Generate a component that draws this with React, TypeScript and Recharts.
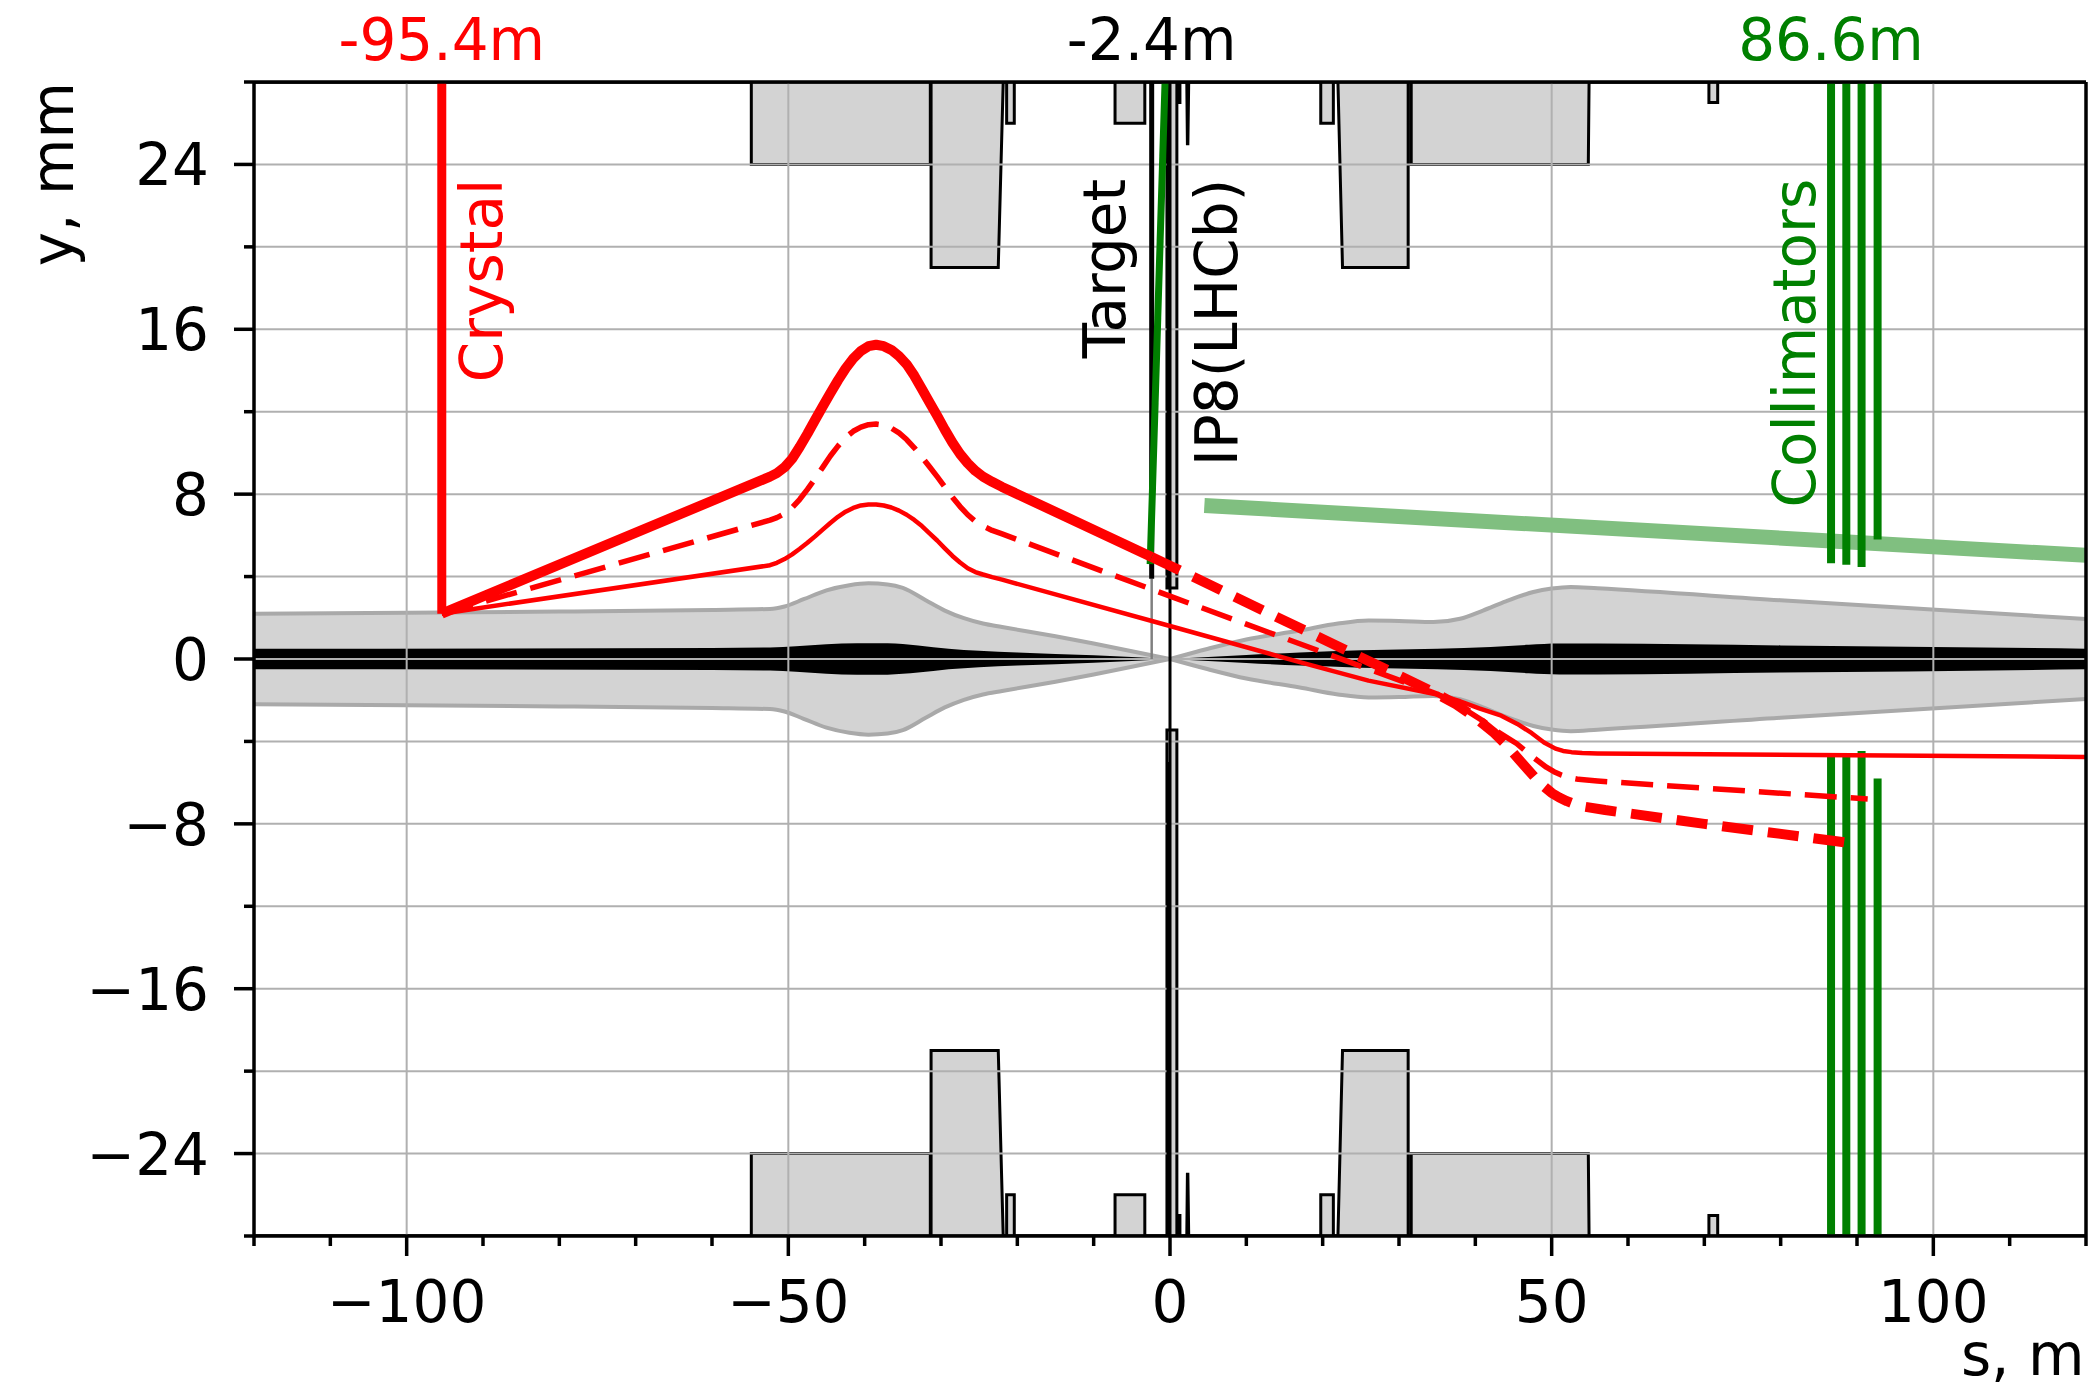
import React from 'react';
import { ComposedChart, Line, Area, XAxis, YAxis, CartesianGrid, ReferenceDot } from 'recharts';

const FONT = "'DejaVu Sans', 'Liberation Sans', sans-serif";
const FS = 58;
const RED = '#ff0000';
const GREEN = '#008000';
const LIGHT_GREEN = '#80bf80';
const BLACK = '#000000';
const FILL_GRAY = '#d3d3d3';
const EDGE_GRAY = '#a9a9a9';
const GRID = '#b0b0b0';

const S_MIN = -120;
const S_MAX = 120;
const Y_MIN = -28;
const Y_MAX = 28;

// ---------- axes ----------
const xTicks = [-120, -110, -100, -90, -80, -70, -60, -50, -40, -30, -20, -10, 0, 10, 20, 30, 40, 50, 60, 70, 80, 90, 100, 110, 120];
const xMajor = [-100, -50, 0, 50, 100];
const yTicks = [-28, -24, -20, -16, -12, -8, -4, 0, 4, 8, 12, 16, 20, 24, 28];
const yMajor = [-24, -16, -8, 0, 8, 16, 24];
const yGrid = [-24, -20, -16, -12, -8, -4, 0, 4, 8, 12, 16, 20, 24];

const topMarks = [
  { s: -95.4, label: '-95.4m', color: RED },
  { s: -2.4, label: '-2.4m', color: BLACK },
  { s: 86.6, label: '86.6m', color: GREEN },
];

// ---------- aperture (half width, mm) ----------
const apertureLeft = [
  { s: -120, a: 2.19 }, { s: -100, a: 2.25 }, { s: -80, a: 2.3 }, { s: -60, a: 2.38 },
  { s: -52.4, a: 2.43 }, { s: -50.5, a: 2.55 }, { s: -48, a: 2.9 }, { s: -45, a: 3.33 },
  { s: -42, a: 3.58 }, { s: -39.5, a: 3.67 }, { s: -37, a: 3.62 }, { s: -35, a: 3.45 },
  { s: -32, a: 2.85 }, { s: -29.5, a: 2.35 }, { s: -27, a: 1.98 }, { s: -24.5, a: 1.72 },
  { s: -22, a: 1.55 }, { s: -15, a: 1.1 }, { s: -10, a: 0.75 }, { s: -5, a: 0.38 }, { s: 0, a: 0 },
];
const apertureRight = [
  { s: 0, a: 0 }, { s: 5, a: 0.5 }, { s: 10, a: 0.95 }, { s: 17, a: 1.38 }, { s: 22, a: 1.72 },
  { s: 26, a: 1.87 }, { s: 30, a: 1.85 }, { s: 34.5, a: 1.79 }, { s: 38, a: 1.95 }, { s: 41, a: 2.35 },
  { s: 44, a: 2.8 }, { s: 47.6, a: 3.25 }, { s: 50, a: 3.42 }, { s: 52.5, a: 3.5 }, { s: 56, a: 3.43 },
  { s: 80, a: 2.85 }, { s: 120, a: 1.94 },
];

// ---------- beam envelope (half width, mm) ----------
const beamLeft = [
  { s: -120, b: 0.5 }, { s: -60, b: 0.53 }, { s: -52.4, b: 0.56 }, { s: -49, b: 0.62 }, { s: -45, b: 0.72 },
  { s: -41, b: 0.77 }, { s: -37, b: 0.76 }, { s: -33, b: 0.66 }, { s: -29, b: 0.5 }, { s: -25, b: 0.4 },
  { s: -20, b: 0.32 }, { s: -10, b: 0.18 }, { s: 0, b: 0 },
];
const beamRight = [
  { s: 0, b: 0 }, { s: 10, b: 0.2 }, { s: 17, b: 0.32 }, { s: 25, b: 0.42 }, { s: 35, b: 0.5 },
  { s: 42, b: 0.58 }, { s: 47, b: 0.69 }, { s: 51, b: 0.75 }, { s: 56, b: 0.75 }, { s: 80, b: 0.66 }, { s: 120, b: 0.5 },
];

// ---------- magnets: outer start, inner start, inner end, outer end, gap ----------
const magnetOuterStart = [-54.85, -31.3, -21.4, -7.2, -0.4, 0.95, 2.2, 19.75, 22.0, 31.6, 70.6];
const magnetInnerStart = [-54.85, -31.3, -21.4, -7.2, -0.4, 0.95, 2.28, 19.75, 22.6, 31.6, 70.6];
const magnetInnerEnd = [-31.4, -22.5, -20.4, -3.3, 0.9, 1.3, 2.34, 21.4, 31.2, 54.8, 71.75];
const magnetOuterEnd = [-31.4, -21.85, -20.4, -3.3, 0.9, 1.3, 2.45, 21.4, 31.2, 54.9, 71.75];
const magnetGap = [24, 19, 26, 26, 3.45, 27, 25, 26, 19, 24, 27];

// ---------- trajectories ----------
const thinPath = [
  { s: -95.4, y: 2.2 }, { s: -52.4, y: 4.55 }, { s: -51.5, y: 4.67 }, { s: -50.5, y: 4.85 }, { s: -49.5, y: 5.08 },
  { s: -48.5, y: 5.35 }, { s: -47.5, y: 5.64 }, { s: -46.5, y: 5.95 }, { s: -45.5, y: 6.28 }, { s: -44.5, y: 6.6 },
  { s: -43.5, y: 6.9 }, { s: -42.5, y: 7.15 }, { s: -41.5, y: 7.33 }, { s: -40.5, y: 7.45 }, { s: -39.5, y: 7.5 },
  { s: -38.5, y: 7.5 }, { s: -37.5, y: 7.45 }, { s: -36.5, y: 7.35 }, { s: -35.5, y: 7.2 }, { s: -34.5, y: 7.0 },
  { s: -33.5, y: 6.75 }, { s: -32.5, y: 6.45 }, { s: -31.5, y: 6.1 }, { s: -30.5, y: 5.75 }, { s: -29.5, y: 5.37 },
  { s: -28.5, y: 5.0 }, { s: -27.5, y: 4.68 }, { s: -26.5, y: 4.4 }, { s: -25.5, y: 4.22 }, { s: -24.5, y: 4.1 },
  { s: -23.3, y: 3.97 }, { s: -22, y: 3.85 }, { s: 0, y: 1.6 }, { s: 17, y: -0.15 }, { s: 26, y: -1.05 },
  { s: 35, y: -1.72 }, { s: 38, y: -2.05 }, { s: 40.5, y: -2.4 }, { s: 43.4, y: -2.75 }, { s: 45.5, y: -3.15 },
  { s: 47.4, y: -3.6 }, { s: 49, y: -4.05 }, { s: 50.5, y: -4.35 }, { s: 51.5, y: -4.46 }, { s: 52.6, y: -4.52 },
  { s: 54, y: -4.56 }, { s: 56, y: -4.58 }, { s: 120, y: -4.75 },
];
const mediumPath = [
  { s: -95.4, y: 2.2 }, { s: -52.4, y: 6.74 }, { s: -51.5, y: 6.86 }, { s: -50.5, y: 7.05 }, { s: -49.5, y: 7.35 },
  { s: -48.5, y: 7.75 }, { s: -47.5, y: 8.23 }, { s: -46.5, y: 8.75 }, { s: -45.5, y: 9.3 }, { s: -44.5, y: 9.85 },
  { s: -43.5, y: 10.33 }, { s: -42.5, y: 10.75 }, { s: -41.5, y: 11.05 }, { s: -40.5, y: 11.25 }, { s: -39.5, y: 11.37 },
  { s: -38.5, y: 11.4 }, { s: -37.5, y: 11.35 }, { s: -36.5, y: 11.2 }, { s: -35.5, y: 10.97 }, { s: -34.5, y: 10.65 },
  { s: -33.5, y: 10.25 }, { s: -32.5, y: 9.8 }, { s: -31.5, y: 9.33 }, { s: -30.5, y: 8.85 }, { s: -29.5, y: 8.35 },
  { s: -28.5, y: 7.85 }, { s: -27.5, y: 7.4 }, { s: -26.5, y: 7.0 }, { s: -25.5, y: 6.68 }, { s: -24.5, y: 6.45 },
  { s: -23.3, y: 6.24 }, { s: -22, y: 6.07 }, { s: 0, y: 3.05 }, { s: 20, y: 0.33 }, { s: 35, y: -1.7 },
  { s: 38, y: -2.3 }, { s: 41, y: -3.0 }, { s: 43, y: -3.55 }, { s: 45.4, y: -4.1 }, { s: 47.5, y: -4.75 },
  { s: 49.3, y: -5.25 }, { s: 50.3, y: -5.47 }, { s: 51.2, y: -5.62 }, { s: 52.2, y: -5.75 }, { s: 53.5, y: -5.84 },
  { s: 56, y: -5.92 }, { s: 70, y: -6.27 }, { s: 91.4, y: -6.79 },
];
const thickBeforeTarget = [
  { s: -95.4, y: 2.2 }, { s: -52.4, y: 8.85 }, { s: -51.5, y: 9.02 }, { s: -50.5, y: 9.3 }, { s: -49.5, y: 9.72 },
  { s: -48.5, y: 10.3 }, { s: -47.5, y: 10.93 }, { s: -46.5, y: 11.6 }, { s: -45.5, y: 12.25 }, { s: -44.5, y: 12.9 },
  { s: -43.5, y: 13.52 }, { s: -42.5, y: 14.1 }, { s: -41.5, y: 14.58 }, { s: -40.5, y: 14.95 }, { s: -39.5, y: 15.18 },
  { s: -38.5, y: 15.25 }, { s: -37.5, y: 15.18 }, { s: -36.5, y: 15.0 }, { s: -35.5, y: 14.7 }, { s: -34.5, y: 14.3 },
  { s: -33.5, y: 13.75 }, { s: -32.5, y: 13.1 }, { s: -31.5, y: 12.45 }, { s: -30.5, y: 11.8 }, { s: -29.5, y: 11.13 },
  { s: -28.5, y: 10.5 }, { s: -27.5, y: 9.95 }, { s: -26.5, y: 9.5 }, { s: -25.5, y: 9.13 }, { s: -24.5, y: 8.85 },
  { s: -23.3, y: 8.6 }, { s: -22, y: 8.35 }, { s: -2.4, y: 4.95 },
];
const thickAfterTarget = [
  { s: -2.4, y: 4.95 }, { s: 0, y: 4.53 }, { s: 20, y: 0.97 }, { s: 30, y: -0.8 },
  { s: 35, y: -1.7 }, { s: 37.5, y: -2.2 }, { s: 40, y: -2.85 }, { s: 42.5, y: -3.6 }, { s: 44, y: -4.15 },
  { s: 46, y: -5.0 }, { s: 48.4, y: -6.0 }, { s: 50, y: -6.5 }, { s: 51, y: -6.72 }, { s: 52, y: -6.9 },
  { s: 53, y: -7.04 }, { s: 54, y: -7.15 }, { s: 57, y: -7.33 }, { s: 70, y: -8.0 }, { s: 89.9, y: -8.97 },
];

// ---------- elements ----------
const crystalS = -95.4;
const crystalTip = 2.2;
const targetS = -2.4;
const targetTip = 3.9;
const ipS = 0;
const veloS = -0.2;
const veloTopGap = 3.45;
const veloBottomGap = 5;
const deflectedFromTarget = [{ s: -2.6, y: 4.6 }, { s: -0.65, y: 28 }];
const lhcbLine = [{ s: 4.5, y: 7.45 }, { s: 120, y: 5.03 }];
const collimatorS = [86.6, 88.6, 90.6, 92.7];
const collimatorGap = [4.65, 4.57, 4.47, 5.8];

const annotations = [
  { s: -87.5, y: 23.3, text: 'Crystal', color: RED },
  { s: -5.9, y: 23.3, text: 'Target', color: BLACK },
  { s: 8.8, y: 23.3, text: 'IP8(LHCb)', color: BLACK },
  { s: 84.5, y: 23.3, text: 'Collimators', color: GREEN },
];

// ---------- derived tables ----------
const toRange = (pts: { s: number; v: number }[]) => pts.map((p) => ({ s: p.s, r: [-p.v, p.v] }));
const apertureLeftData = toRange(apertureLeft.map((p) => ({ s: p.s, v: p.a })));
const apertureRightData = toRange(apertureRight.map((p) => ({ s: p.s, v: p.a })));
const beamLeftData = toRange(beamLeft.map((p) => ({ s: p.s, v: p.b })));
const beamRightData = toRange(beamRight.map((p) => ({ s: p.s, v: p.b })));

function magnetProfile(side: number) {
  const pair = (inner: number) => (side > 0 ? [inner, Y_MAX] : [Y_MIN, -inner]);
  const pts: { s: number; r: number[] }[] = [{ s: S_MIN, r: pair(Y_MAX) }];
  magnetGap.forEach((g, i) => {
    pts.push({ s: magnetOuterStart[i], r: pair(Y_MAX) });
    pts.push({ s: magnetInnerStart[i], r: pair(g) });
    pts.push({ s: magnetInnerEnd[i], r: pair(g) });
    pts.push({ s: magnetOuterEnd[i], r: pair(Y_MAX) });
  });
  pts.push({ s: S_MAX, r: pair(Y_MAX) });
  return pts;
}
const magnetsTop = magnetProfile(1);
const magnetsBottom = magnetProfile(-1);

const vseg = (s: number, y0: number, y1: number) => [{ s, y: y0 }, { s, y: y1 }];

const fmt = (v: number) => (v < 0 ? '\u2212' + Math.abs(v) : String(v));

const XTick = (p: any) => {
  const { x, y, payload } = p;
  const v = payload.value;
  const major = xMajor.includes(v);
  return (
    <g>
      <line x1={x} x2={x} y1={y} y2={y + (major ? 20 : 10)} stroke={BLACK} strokeWidth={3.5} />
      {major && (
        <text x={x} y={y + 86} textAnchor="middle" fontSize={FS} fontFamily={FONT} fill={BLACK}>
          {fmt(v)}
        </text>
      )}
    </g>
  );
};

const YTick = (p: any) => {
  const { x, y, payload } = p;
  const v = payload.value;
  const major = yMajor.includes(v);
  return (
    <g>
      <line x1={x - (major ? 20 : 10)} x2={x} y1={y} y2={y} stroke={BLACK} strokeWidth={3.5} />
      {major && (
        <text x={x - 45} y={y + 21} textAnchor="end" fontSize={FS} fontFamily={FONT} fill={BLACK}>
          {fmt(v)}
        </text>
      )}
    </g>
  );
};

const TopTick = (p: any) => {
  const { x, y, payload } = p;
  const m = topMarks.find((t) => Math.abs(t.s - payload.value) < 1e-6);
  if (!m) return <g />;
  return (
    <text x={x} y={y - 22.5} textAnchor="middle" fontSize={FS} fontFamily={FONT} fill={m.color}>
      {m.label}
    </text>
  );
};

const YLabel = (p: any) => {
  const vb = p.viewBox || { x: 94, y: 82, width: 160, height: 1154 };
  const x = vb.x + vb.width - 181;
  const y = vb.y;
  return (
    <text x={x} y={y} transform={`rotate(-90 ${x} ${y})`} textAnchor="end" fontSize={FS} fontFamily={FONT} fill={BLACK}>
      y, mm
    </text>
  );
};

const SLabel = (p: any) => {
  const vb = p.viewBox || { x: 254, y: 1236, width: 1832, height: 100 };
  return (
    <text x={vb.x + vb.width - 1.5} y={vb.y + 139} textAnchor="end" fontSize={FS} fontFamily={FONT} fill={BLACK}>
      s, m
    </text>
  );
};

const annotationShape = (a: { text: string; color: string }) => (p: any) => (
  <text
    x={p.cx}
    y={p.cy}
    transform={`rotate(-90 ${p.cx} ${p.cy})`}
    textAnchor="end"
    fontSize={FS}
    fontFamily={FONT}
    fill={a.color}
  >
    {a.text}
  </text>
);

export default function App() {
  return (
    <div style={{ position: 'absolute', left: 0, top: 0, width: 2089, height: 1392, background: '#fff' }}>
      <ComposedChart width={2089} height={1392} margin={{ top: 22, right: 2, bottom: 56, left: 94 }}>
        {/* aperture */}
        <Area data={apertureLeftData} dataKey="r" type="monotone" fill={FILL_GRAY} fillOpacity={1} stroke={EDGE_GRAY} strokeWidth={4} isAnimationActive={false} dot={false} activeDot={false} />
        <Area data={apertureRightData} dataKey="r" type="monotone" fill={FILL_GRAY} fillOpacity={1} stroke={EDGE_GRAY} strokeWidth={4} isAnimationActive={false} dot={false} activeDot={false} />
        {/* beam */}
        <Area data={beamLeftData} dataKey="r" type="monotone" fill={BLACK} fillOpacity={1} stroke="none" isAnimationActive={false} dot={false} activeDot={false} />
        <Area data={beamRightData} dataKey="r" type="monotone" fill={BLACK} fillOpacity={1} stroke="none" isAnimationActive={false} dot={false} activeDot={false} />
        {/* magnets */}
        <Area data={magnetsTop} dataKey="r" type="linear" fill={FILL_GRAY} fillOpacity={1} stroke={BLACK} strokeWidth={3} isAnimationActive={false} dot={false} activeDot={false} />
        <Area data={magnetsBottom} dataKey="r" type="linear" fill={FILL_GRAY} fillOpacity={1} stroke={BLACK} strokeWidth={3} isAnimationActive={false} dot={false} activeDot={false} />

        <CartesianGrid horizontalValues={yGrid} verticalValues={xMajor} stroke={GRID} strokeWidth={2} zIndex={150} />

        {/* target and IP */}
        <Line data={vseg(targetS, 0, targetTip)} dataKey="y" type="linear" stroke="#808080" strokeWidth={2.5} dot={false} activeDot={false} isAnimationActive={false} />
        <Line data={vseg(targetS, targetTip, Y_MAX)} dataKey="y" type="linear" stroke={BLACK} strokeWidth={5} dot={false} activeDot={false} isAnimationActive={false} />
        <Line data={vseg(ipS, Y_MIN, Y_MAX)} dataKey="y" type="linear" stroke={BLACK} strokeWidth={3} dot={false} activeDot={false} isAnimationActive={false} />
        <Line data={vseg(veloS, veloTopGap, Y_MAX)} dataKey="y" type="linear" stroke={BLACK} strokeWidth={4} dot={false} activeDot={false} isAnimationActive={false} />
        <Line data={vseg(veloS, Y_MIN, -veloBottomGap)} dataKey="y" type="linear" stroke={BLACK} strokeWidth={4} dot={false} activeDot={false} isAnimationActive={false} />
        <Line data={deflectedFromTarget} dataKey="y" type="linear" stroke={GREEN} strokeWidth={7} dot={false} activeDot={false} isAnimationActive={false} />

        {/* LHCb beam line and collimators */}
        <Line data={lhcbLine} dataKey="y" type="linear" stroke={LIGHT_GREEN} strokeWidth={15} dot={false} activeDot={false} isAnimationActive={false} />
        {collimatorS.map((s, i) => (
          <Line key={'cu' + i} data={vseg(s, collimatorGap[i], Y_MAX)} dataKey="y" type="linear" stroke={GREEN} strokeWidth={8} dot={false} activeDot={false} isAnimationActive={false} />
        ))}
        {collimatorS.map((s, i) => (
          <Line key={'cl' + i} data={vseg(s, Y_MIN, -collimatorGap[i])} dataKey="y" type="linear" stroke={GREEN} strokeWidth={8} dot={false} activeDot={false} isAnimationActive={false} />
        ))}

        {/* trajectories */}
        <Line data={thinPath} dataKey="y" type="linear" stroke={RED} strokeWidth={4.5} strokeLinejoin="round" dot={false} activeDot={false} isAnimationActive={false} />
        <Line data={mediumPath} dataKey="y" type="linear" stroke={RED} strokeWidth={5.5} strokeLinejoin="round" strokeDasharray="32 14" dot={false} activeDot={false} isAnimationActive={false} />
        <Line data={thickBeforeTarget} dataKey="y" type="linear" stroke={RED} strokeWidth={10} strokeLinejoin="round" dot={false} activeDot={false} isAnimationActive={false} />
        <Line data={thickAfterTarget} dataKey="y" type="linear" stroke={RED} strokeWidth={10} strokeLinejoin="round" strokeDasharray="31 15" dot={false} activeDot={false} isAnimationActive={false} />
        <Line data={vseg(crystalS, crystalTip, Y_MAX)} dataKey="y" type="linear" stroke={RED} strokeWidth={9} dot={false} activeDot={false} isAnimationActive={false} />

        {annotations.map((a) => (
          <ReferenceDot key={a.text} x={a.s} y={a.y} r={1} shape={annotationShape(a)} />
        ))}

        <XAxis
          xAxisId="top"
          orientation="top"
          type="number"
          dataKey="s"
          domain={[S_MIN, S_MAX]}
          allowDataOverflow
          ticks={topMarks.map((m) => m.s)}
          interval={0}
          tickSize={0}
          tickMargin={0}
          tickLine={false}
          height={60}
          axisLine={{ stroke: BLACK, strokeWidth: 3.5 }}
          tick={(p: any) => <TopTick {...p} />}
        />
        <XAxis
          type="number"
          dataKey="s"
          domain={[S_MIN, S_MAX]}
          allowDataOverflow
          ticks={xTicks}
          interval={0}
          tickSize={0}
          tickMargin={0}
          tickLine={false}
          height={100}
          axisLine={{ stroke: BLACK, strokeWidth: 3.5 }}
          tick={(p: any) => <XTick {...p} />}
          label={{ content: (p: any) => <SLabel {...p} /> }}
        />
        <YAxis
          type="number"
          domain={[Y_MIN, Y_MAX]}
          allowDataOverflow
          ticks={yTicks}
          interval={0}
          tickSize={0}
          tickMargin={0}
          tickLine={false}
          width={160}
          axisLine={{ stroke: BLACK, strokeWidth: 3.5 }}
          tick={(p: any) => <YTick {...p} />}
          label={{ content: (p: any) => <YLabel {...p} /> }}
        />
        <YAxis
          yAxisId="right"
          orientation="right"
          type="number"
          domain={[Y_MIN, Y_MAX]}
          allowDataOverflow
          width={1}
          tick={false}
          tickLine={false}
          axisLine={{ stroke: BLACK, strokeWidth: 3.5 }}
        />
      </ComposedChart>
    </div>
  );
}
